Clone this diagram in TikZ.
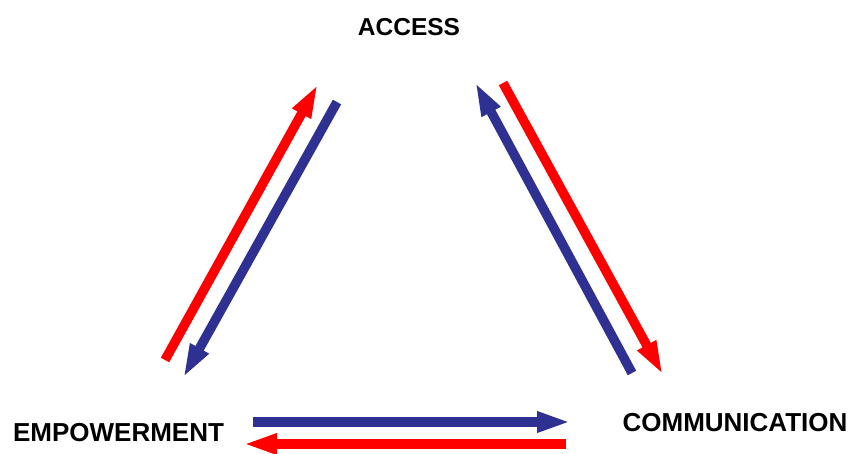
\documentclass[tikz,border=0pt]{standalone}
\usepackage{fontspec}
\setmainfont{Liberation Sans}
\usetikzlibrary{arrows.meta}
\definecolor{flowred}{RGB}{255,0,0}
\definecolor{flowblue}{RGB}{46,49,146}
\tikzset{
        corner/.style={font=\bfseries\fontsize{26}{28}\selectfont, inner sep=0pt}, % the three labels
        flow/.style={line width=9.5pt, -{Triangle[length=34pt, width=19pt]}}, % fat arrows
    }
\begin{document}
\begin{tikzpicture}[x=1pt, y=-1pt]
    \useasboundingbox (0,0) rectangle (850,453);
    \node [corner, font=\bfseries\fontsize{24.5}{27}\selectfont] (access) at (409,27) {ACCESS};
    \node [corner] (empower) at (118.5,432.5) {EMPOWERMENT};
    \node [corner] (comm) at (735,423) {COMMUNICATION};
    % left side
    \coordinate (l1) at (165,360); \coordinate (l2) at (318,84);
    \coordinate (l3) at (337,102); \coordinate (l4) at (183,378);
    % right side
    \coordinate (r1) at (632,373); \coordinate (r2) at (475,82);
    \coordinate (r3) at (503,83); \coordinate (r4) at (663,375);
    % bottom
    \coordinate (b1) at (253,422); \coordinate (b2) at (571,422);
    \coordinate (b3) at (566,444); \coordinate (b4) at (243,444);
    \draw [flow, flowred] (l1) -- (l2);
    \draw [flow, flowblue] (l3) -- (l4);
    \draw [flow, flowblue] (r1) -- (r2);
    \draw [flow, flowred] (r3) -- (r4);
    \draw [flow, flowblue] (b1) -- (b2);
    \draw [flow, flowred] (b3) -- (b4);
\end{tikzpicture}
\end{document}
